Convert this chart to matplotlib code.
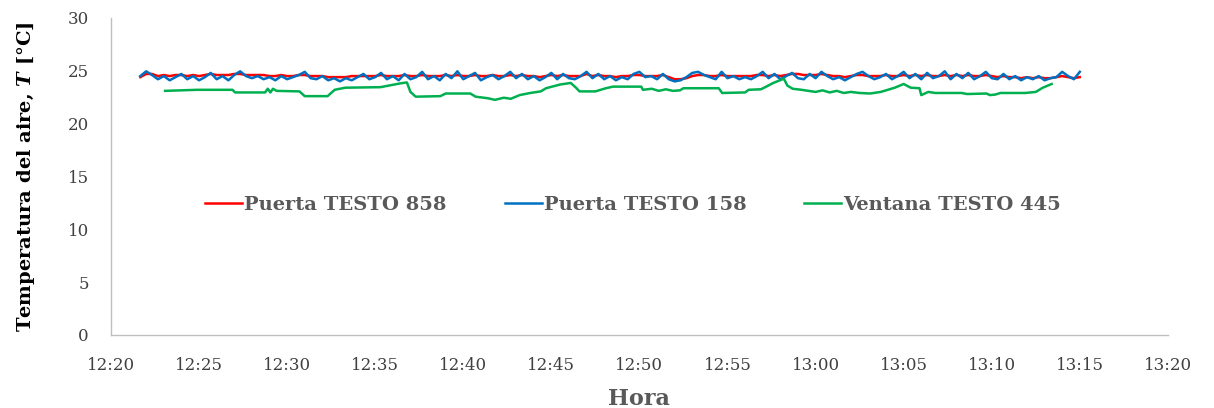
import numpy as np
import matplotlib
matplotlib.use('Agg')
import matplotlib.pyplot as plt

plt.rcParams['font.family'] = ['DejaVu Serif']
plt.rcParams['mathtext.fontset'] = 'custom'
plt.rcParams['mathtext.it'] = 'DejaVu Serif:italic:bold'
plt.rcParams['mathtext.rm'] = 'DejaVu Serif:bold'

# minutes after 12:20
hour_ticks = [0, 5, 10, 15, 20, 25, 30, 35, 40, 45, 50, 55, 60]
hour_labels = ['12:20', '12:25', '12:30', '12:35', '12:40', '12:45', '12:50',
               '12:55', '13:00', '13:05', '13:10', '13:15', '13:20']

# door loggers, one reading every 20 s from 12:21:40
door_start = 1 + 40 / 60
door_step = 1 / 3

testo_858 = [
    24.4, 24.7, 24.7, 24.5, 24.6, 24.5, 24.6, 24.6, 24.5, 24.6,
    24.5, 24.6, 24.7, 24.6, 24.6, 24.6, 24.7, 24.7, 24.6, 24.6,
    24.6, 24.6, 24.5, 24.5, 24.6, 24.5, 24.5, 24.6, 24.6, 24.5,
    24.5, 24.5, 24.4, 24.4, 24.4, 24.4, 24.5, 24.5, 24.5, 24.5,
    24.5, 24.6, 24.5, 24.5, 24.5, 24.6, 24.5, 24.5, 24.6, 24.5,
    24.5, 24.5, 24.6, 24.5, 24.6, 24.5, 24.5, 24.6, 24.5, 24.5,
    24.6, 24.5, 24.5, 24.6, 24.5, 24.6, 24.5, 24.5, 24.4, 24.5,
    24.6, 24.5, 24.6, 24.5, 24.5, 24.5, 24.7, 24.5, 24.6, 24.5,
    24.5, 24.4, 24.5, 24.5, 24.6, 24.6, 24.5, 24.5, 24.5, 24.6,
    24.4, 24.2, 24.2, 24.3, 24.5, 24.6, 24.6, 24.5, 24.5, 24.6,
    24.5, 24.5, 24.5, 24.5, 24.5, 24.6, 24.6, 24.5, 24.6, 24.5,
    24.6, 24.7, 24.7, 24.6, 24.6, 24.6, 24.7, 24.6, 24.5, 24.5,
    24.4, 24.5, 24.6, 24.6, 24.5, 24.5, 24.5, 24.6, 24.5, 24.5,
    24.6, 24.5, 24.6, 24.5, 24.6, 24.5, 24.5, 24.6, 24.5, 24.6,
    24.5, 24.6, 24.5, 24.5, 24.6, 24.5, 24.4, 24.5, 24.4, 24.4,
    24.3, 24.4, 24.3, 24.4, 24.3, 24.3, 24.4, 24.5, 24.4, 24.3,
    24.4]

testo_158 = [
    24.5, 24.95, 24.6, 24.2, 24.5, 24.1, 24.4, 24.7, 24.2, 24.5,
    24.1, 24.4, 24.8, 24.2, 24.5, 24.1, 24.6, 24.95, 24.5, 24.3,
    24.5, 24.2, 24.4, 24.1, 24.5, 24.2, 24.4, 24.6, 24.9, 24.3,
    24.2, 24.5, 24.1, 24.3, 24.0, 24.3, 24.1, 24.4, 24.7, 24.2,
    24.4, 24.8, 24.2, 24.5, 24.1, 24.7, 24.2, 24.4, 24.9, 24.2,
    24.5, 24.1, 24.7, 24.3, 24.95, 24.2, 24.5, 24.8, 24.1, 24.4,
    24.6, 24.2, 24.5, 24.9, 24.3, 24.7, 24.2, 24.5, 24.1, 24.4,
    24.8, 24.2, 24.7, 24.3, 24.2, 24.5, 24.9, 24.3, 24.7, 24.2,
    24.5, 24.1, 24.4, 24.2, 24.7, 24.9, 24.4, 24.5, 24.2, 24.7,
    24.2, 24.0, 24.1, 24.4, 24.8, 24.9, 24.6, 24.4, 24.2, 24.9,
    24.3, 24.5, 24.2, 24.4, 24.2, 24.5, 24.9, 24.3, 24.7, 24.2,
    24.5, 24.8, 24.3, 24.2, 24.7, 24.3, 24.9, 24.5, 24.2, 24.4,
    24.1, 24.4, 24.7, 24.9, 24.5, 24.2, 24.4, 24.7, 24.2, 24.5,
    24.9, 24.3, 24.7, 24.2, 24.8, 24.3, 24.5, 24.95, 24.2, 24.7,
    24.3, 24.8, 24.2, 24.5, 24.9, 24.3, 24.2, 24.7, 24.2, 24.5,
    24.1, 24.4, 24.2, 24.5, 24.1, 24.3, 24.4, 24.9, 24.5, 24.2,
    24.9]

# window logger, irregular readings (minutes after 12:20)
testo_445_t = [3.07, 4.9, 6.9, 7.05, 8.75, 8.9, 9.05, 9.2, 9.4, 10.7,
               11.0, 12.3, 12.7, 13.3, 15.3, 16.4, 16.8, 17.0, 17.3, 18.7,
               19.0, 20.4, 20.7, 21.4, 21.8, 22.3, 22.7, 23.2, 23.8, 24.4,
               24.7, 25.5, 26.1, 26.4, 26.6, 27.5, 28.1, 28.5, 30.1, 30.2,
               30.7, 31.1, 31.5, 31.9, 32.3, 32.5, 34.5, 34.7, 36.0, 36.2,
               36.9, 37.2, 37.6, 38.2, 38.4, 38.7, 39.2, 39.6, 40.0, 40.4,
               40.8, 41.2, 41.6, 42.0, 42.5, 43.1, 43.7, 44.5, 45.0, 45.4,
               45.9, 46.0, 46.4, 46.8, 48.3, 48.6, 49.7, 49.9, 50.2, 50.5,
               51.9, 52.5, 52.9, 53.4]
testo_445 = [23.1, 23.2, 23.2, 22.95, 22.95, 23.3, 22.95, 23.3, 23.1, 23.05,
             22.6, 22.6, 23.2, 23.4, 23.45, 23.8, 23.9, 23.0, 22.55, 22.6,
             22.85, 22.85, 22.55, 22.4, 22.25, 22.45, 22.35, 22.7, 22.9, 23.05,
             23.35, 23.7, 23.85, 23.4, 23.05, 23.05, 23.35, 23.5, 23.5, 23.2,
             23.3, 23.1, 23.25, 23.1, 23.15, 23.35, 23.35, 22.9, 22.95, 23.2,
             23.25, 23.5, 23.85, 24.25, 23.6, 23.3, 23.2, 23.1, 23.0, 23.15,
             22.95, 23.1, 22.9, 23.0, 22.9, 22.85, 23.0, 23.4, 23.75, 23.4,
             23.35, 22.7, 23.0, 22.9, 22.9, 22.8, 22.85, 22.7, 22.75, 22.9,
             22.9, 23.0, 23.4, 23.75]

t_door = door_start + door_step * np.arange(len(testo_858))

fig = plt.figure(figsize=(12.14, 4.08), dpi=100)
ax = fig.add_axes([0.0914, 0.179, 0.8706, 0.777])

ax.plot(t_door, testo_858, color='#FF0000', lw=1.8, label='Puerta TESTO 858')
ax.plot(t_door, testo_158, color='#0070C0', lw=1.8, label='Puerta TESTO 158')
ax.plot(testo_445_t, testo_445, color='#00B050', lw=1.8, label='Ventana TESTO 445')

ax.set_xlim(0, 60)
ax.set_ylim(0, 30)
ax.set_xticks(hour_ticks)
ax.set_xticklabels(hour_labels)
ax.set_yticks(range(0, 31, 5))
ax.tick_params(length=0, labelsize=12, colors='#404040')
ax.tick_params(axis='x', pad=16)
ax.tick_params(axis='y', pad=16)
for s in ['top', 'right']:
    ax.spines[s].set_visible(False)
for s in ['left', 'bottom']:
    ax.spines[s].set_color('#BFBFBF')
    ax.spines[s].set_linewidth(1)

ax.set_xlabel('Hora', fontsize=16, fontweight='bold', color='#595959', labelpad=10)
ax.set_ylabel('Temperatura del aire, $T$ [°C]', fontsize=14, fontweight='bold',
              color='black', labelpad=22)

leg = ax.legend(loc='center', bbox_to_anchor=(0.494, 0.41), ncol=3, frameon=False,
                handlelength=1.9, handletextpad=0.1, columnspacing=3.0,
                prop={'weight': 'bold', 'size': 14})
for txt in leg.get_texts():
    txt.set_color('#595959')

fig.savefig('out.png', dpi=100)
